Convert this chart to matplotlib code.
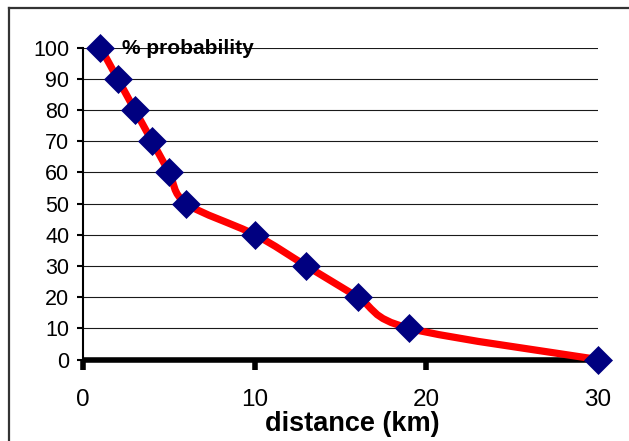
import numpy as np
import matplotlib
matplotlib.use("Agg")
import matplotlib.pyplot as plt
from matplotlib.path import Path
from matplotlib.patches import PathPatch
from matplotlib.lines import Line2D

plt.rcParams["font.family"] = ["Liberation Sans", "DejaVu Sans"]

# data
distance_km = [1, 2, 3, 4, 5, 6, 10, 13, 16, 19, 30]
probability_pct = [100, 90, 80, 70, 60, 50, 40, 30, 20, 10, 0]
x_ticks = [0, 10, 20, 30]
y_ticks = [0, 10, 20, 30, 40, 50, 60, 70, 80, 90, 100]

W, H = 629, 441


def smooth_path(xs, ys):
    # Excel-style smoothed line: cubic Bezier segments, Catmull-Rom control points
    pts = np.column_stack([xs, ys]).astype(float)
    n = len(pts)
    verts = [pts[0]]
    codes = [Path.MOVETO]
    for i in range(n - 1):
        p0 = pts[max(i - 1, 0)]
        p1 = pts[i]
        p2 = pts[i + 1]
        p3 = pts[min(i + 2, n - 1)]
        c1 = p1 + (p2 - p0) / 6.0
        c2 = p2 - (p3 - p1) / 6.0
        verts += [c1, c2, p2]
        codes += [Path.CURVE4] * 3
    return Path(verts, codes)


fig = plt.figure(figsize=(W / 100, H / 100), dpi=100)
ax = fig.add_axes([83.3 / W, 1 - 359.5 / H, (598 - 83.3) / W, (359.5 - 47.5) / H])

# outer chart-area border: only top and left edges are inside the picture
bx, by = 8.5 / W, 1 - 7.5 / H
fig.add_artist(Line2D([bx, 1.0], [by, by], transform=fig.transFigure,
                      color="#333333", lw=1.6))
fig.add_artist(Line2D([bx, bx], [0.0, by], transform=fig.transFigure,
                      color="#333333", lw=1.6))

ax.set_xlim(0, 30)
ax.set_ylim(0, 100)
ax.set_xticks(x_ticks)
ax.set_yticks(y_ticks)

ax.grid(axis="y", color="#1a1a1a", lw=0.8)
ax.grid(axis="x", visible=False)

ax.add_patch(PathPatch(smooth_path(distance_km, probability_pct), fill=False,
                       edgecolor="#ff0000", lw=5.2, capstyle="round",
                       joinstyle="round", zorder=3, clip_on=False))
ax.plot(distance_km, probability_pct, ls="none", marker="D", ms=14.5,
        mfc="#000080", mec="#000080", mew=0.5, zorder=5, clip_on=False)

for s in ("top", "right"):
    ax.spines[s].set_visible(False)
ax.spines["left"].set_linewidth(1.5)
ax.spines["bottom"].set_linewidth(4)
ax.spines["bottom"].set_capstyle("butt")

ax.tick_params(axis="y", direction="out", length=4, width=1.5, pad=6, labelsize=15.5)
ax.tick_params(axis="x", direction="out", length=7.5, width=4, pad=14, labelsize=17.5)

fig.text(121.7 / W, 1 - 54 / H, "% probability", fontsize=15, fontweight="bold",
         ha="left", va="baseline")
fig.text(352 / W, 1 - 431 / H, "distance (km)", fontsize=19.5, fontweight="bold",
         ha="center", va="baseline")

fig.savefig("out.png", dpi=100)
